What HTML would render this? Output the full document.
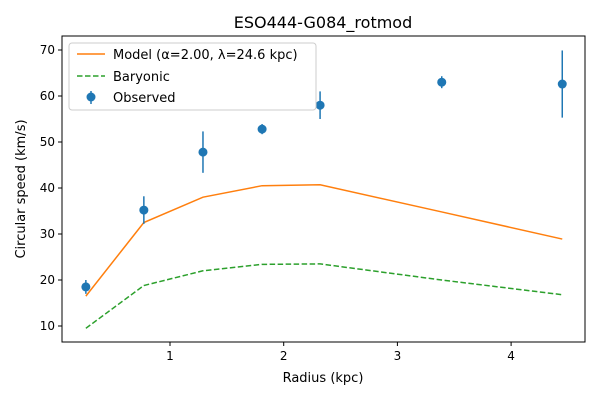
<!DOCTYPE html>
<html><head><meta charset="utf-8"><style>
body{margin:0;background:#fff;font-family:"Liberation Sans","DejaVu Sans",sans-serif}
svg text{font-family:"DejaVu Sans","Liberation Sans",sans-serif}
</style></head><body>
<svg id="c" width="600" height="400"></svg>
<script>
const radius=[0.26,0.77,1.29,1.81,2.32,3.39,4.45];
const observed=[18.5,35.2,47.8,52.8,58.0,63.0,62.6];
const obsErr=[1.5,3.0,4.5,1.1,3.0,1.3,7.3];
const model=[16.5,32.5,38.0,40.5,40.7,34.8,28.9];
const baryonic=[9.5,18.8,22.0,23.4,23.5,20.0,16.8];
const xTicks=[1,2,3,4];
const yTicks=[10,20,30,40,50,60,70];
const L=62,R=585,T=36,B=342;
const X=v=>170+(v-1)*113.7;
const Y=v=>326-(v-10)*4.6;
const s=document.getElementById('c');
const NS='http://www.w3.org/2000/svg';
function mk(t,a,p){const e=document.createElementNS(NS,t);for(const k in a)e.setAttribute(k,a[k]);(p||s).appendChild(e);return e;}
let e;
e=mk('text',{x:323,y:28,'text-anchor':'middle','font-size':16,fill:'#000'});e.textContent='ESO444-G084_rotmod';


xTicks.forEach(t=>{mk('line',{x1:X(t),x2:X(t),y1:B,y2:B+4,stroke:'#000'});
 e=mk('text',{x:X(t),y:B+18,'text-anchor':'middle','font-size':12});e.textContent=t;
 
 });
yTicks.forEach(t=>{mk('line',{x1:L-4,x2:L,y1:Y(t),y2:Y(t),stroke:'#000'});
 e=mk('text',{x:L-7,y:Y(t)+4,'text-anchor':'end','font-size':12});e.textContent=t;
 
 });
e=mk('text',{x:323,y:382,'text-anchor':'middle','font-size':13});e.textContent='Radius (kpc)';


e=mk('text',{x:0,y:0,'text-anchor':'middle','font-size':13,transform:'translate(25,189) rotate(-90)'});e.textContent='Circular speed (km/s)';


const pts=a=>radius.map((r,i)=>X(r)+','+Y(a[i])).join(' ');
e=mk('polyline',{points:pts(model),fill:'none',stroke:'#ff7f0e','stroke-width':1.5});


e=mk('polyline',{points:pts(baryonic),fill:'none',stroke:'#2ca02c','stroke-width':1.5,'stroke-dasharray':'5.5,2.5'});


radius.forEach((r,i)=>{
 e=mk('line',{x1:X(r),x2:X(r),y1:Y(observed[i]-obsErr[i]),y2:Y(observed[i]+obsErr[i]),stroke:'#1f77b4','stroke-width':1.5});
 
 
 e=mk('circle',{cx:X(r),cy:Y(observed[i]),r:4.5,fill:'#1f77b4'});
 
 
});
e=mk('rect',{x:L,y:T,width:R-L,height:B-T,fill:'none',stroke:'#000','stroke-width':1});


const g=mk('g',{});


mk('rect',{x:69,y:43,width:247,height:67,rx:3,fill:'#fff','fill-opacity':0.8,stroke:'#ccc'},g);
mk('line',{x1:77,x2:105,y1:54,y2:54,stroke:'#ff7f0e','stroke-width':1.5},g);
mk('line',{x1:77,x2:105,y1:76,y2:76,stroke:'#2ca02c','stroke-width':1.5,'stroke-dasharray':'5.5,2.5'},g);
mk('line',{x1:91,x2:91,y1:91,y2:104,stroke:'#1f77b4','stroke-width':1.5},g);
mk('circle',{cx:91,cy:97,r:4.5,fill:'#1f77b4'},g);
[['Model (α=2.00, λ=24.6 kpc)',59],['Baryonic',81],['Observed',102]].forEach(([t,y])=>{
 const tx=mk('text',{x:113,y:y,'font-size':13},g);tx.textContent=t;
 
 });
</script>
</body></html>
